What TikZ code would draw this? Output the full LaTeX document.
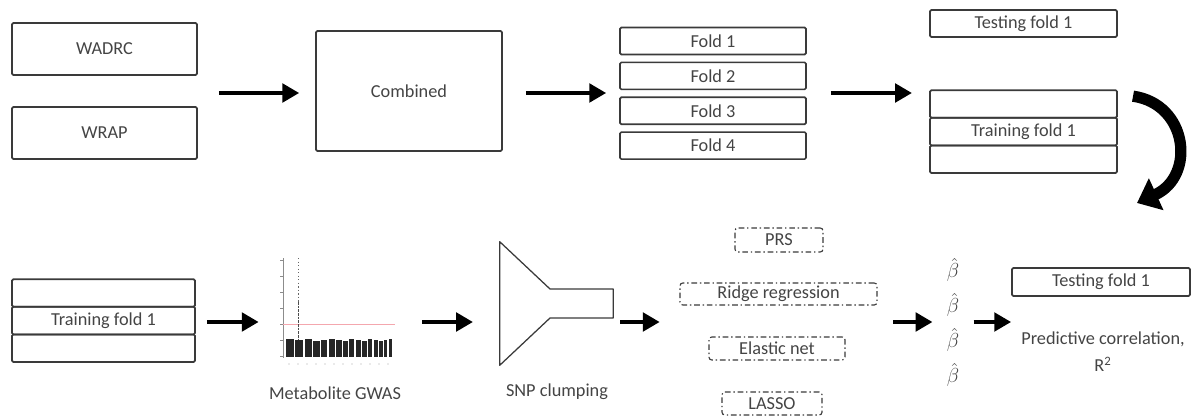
\documentclass[tikz,border=0pt]{standalone}
\usepackage{fontspec}
\setmainfont{Carlito}
\usetikzlibrary{calc, positioning, arrows.meta}
\definecolor{BoxGray}{HTML}{3A3A3A}
\definecolor{TextGray}{HTML}{444444}
\definecolor{CutoffRed}{HTML}{F4A7AE}

\tikzset{
  databox/.style={draw=BoxGray, line width=1.2pt, rounded corners=1pt,
                  inner sep=0pt, text=TextGray, font=\fontsize{13}{15}\selectfont},
  foldrow/.style={databox, outer sep=0pt, minimum height=0.69cm},
  modelbox/.style={draw=BoxGray, line width=0.8pt, rounded corners=2pt,
                   dash pattern=on 4pt off 2pt on 1pt off 2pt,
                   inner sep=0pt, text=TextGray, font=\fontsize{13}{15}\selectfont},
  caption/.style={text=TextGray, inner sep=0pt, font=\fontsize{13}{19}\selectfont},
  betalabel/.style={text=TextGray, inner sep=0pt, font=\fontsize{14}{14}\selectfont},
  flowarrow/.style={line width=3.5pt, -{Triangle[length=12pt,width=13pt]}},
  bendarrow/.style={line width=8pt, -{Triangle[length=15pt,width=24pt]}}
}

\begin{document}
\begin{tikzpicture}[x=0.025cm, y=-0.025cm]
  \useasboundingbox (0,0) rectangle (1194,419);
  \coordinate (toprow) at (0,93);
  \coordinate (midrow) at (0,322);

  % cohorts
  \node[databox, minimum width=4.625cm, minimum height=1.3cm] (wadrc) at (104.5,49) {WADRC};
  \node[databox, minimum width=4.625cm, minimum height=1.3cm] (wrap) at (104.5,133) {WRAP};
  \node[databox, minimum width=4.65cm, minimum height=3cm] (combined) at (409,91) {Combined};

  % four folds
  \node[databox, minimum width=4.65cm, minimum height=0.675cm] (fold1) at (713,41) {Fold 1};
  \foreach \i [count=\j from 2] in {1,2,3}
    \node[databox, minimum width=4.65cm, minimum height=0.675cm, below=4.4pt of fold\i] (fold\j) {Fold \j};

  % split of fold 1
  \node[databox, minimum width=4.675cm, minimum height=0.675cm] (testA) at (1023.5,23.5) {Testing fold 1};
  \node[foldrow, minimum width=4.675cm] (trainA1) at (1023.5,104) {};
  \node[foldrow, minimum width=4.675cm, below=0pt of trainA1] (trainA2) {Training fold 1};
  \node[foldrow, minimum width=4.675cm, below=0pt of trainA2] (trainA3) {};

  \draw[flowarrow, shorten <=15pt, shorten >=11.3pt] (wadrc.east |- toprow) -- (combined.west |- toprow);
  \draw[flowarrow, shorten <=16.3pt, shorten >=9.2pt] (combined.east |- toprow) -- (fold1.west |- toprow);
  \draw[flowarrow, shorten <=17pt, shorten >=12.8pt] (fold1.east |- toprow) -- (trainA1.west |- toprow);

  \coordinate (bendS) at ($(trainA1.north east)+(16,6)$);
  \coordinate (bendE) at (1137,203);
  \draw[bendarrow] (bendS) .. controls (1188,104) and (1196,176) .. (bendE);

  % bottom row
  \node[foldrow, minimum width=4.575cm] (trainB1) at (103.5,293) {};
  \node[foldrow, minimum width=4.575cm, below=0pt of trainB1] (trainB2) {Training fold 1};
  \node[foldrow, minimum width=4.575cm, below=0pt of trainB2] (trainB3) {};

  % manhattan plot
  \node[minimum width=3.2cm, minimum height=2.85cm, inner sep=0pt] (gwas) at (331,315) {};
  \draw[black!45, line width=0.3pt] (283,258) -- (283,358);
  \foreach \t in {260,276,292,308,324,340,356}
    \draw[black!45, line width=0.3pt] (280,\t) -- (283,\t);
  \draw[CutoffRed, line width=0.6pt] (283,324) -- (395,324);
  \draw[black!60, line width=0.5pt, dash pattern=on 1pt off 1.5pt] (298,258) -- (298,302);
  \draw[black!70, line width=0.6pt, dash pattern=on 2pt off 0.6pt] (298,302) -- (298,340);
  \foreach \w/\t [evaluate=\w as \xe using \xs+\w+1.3,
                  remember=\xe as \xs (initially 286)] in
      {8/339, 8/340, 7/339, 7/341, 6/340, 6/339, 6/340, 5/341,
       5/339, 5/340, 5/341, 4/339, 4/340, 4/341, 3/340, 3/339}
    \fill[black!85] (\xs,357) rectangle (\xs+\w,\t);
  \foreach \x in {289,298,307,316,325,334,343,352,361,370,379,388}
    \fill[black!35] (\x,364) circle (0.6);
  \node[caption] (gwaslabel) at (335,393) {Metabolite GWAS};

  % clumping funnel
  \node[minimum width=2.825cm, minimum height=3.075cm, inner sep=0pt] (clump) at (556.5,303.5) {};
  \draw[BoxGray, line width=0.9pt, line join=round]
    (clump.north west) -- (550,289) -- (clump.east |- 0,289) -- (clump.east |- 0,318)
    -- (550,318) -- (clump.south west) -- cycle;
  \node[caption] (clumplabel) at (557,392) {SNP clumping};

  % models
  \node[modelbox, minimum width=2.2cm, minimum height=0.6cm] (prs) at (779,240) {PRS};
  \node[modelbox, minimum width=4.925cm, minimum height=0.55cm] (ridge) at (778.5,294) {Ridge regression};
  \node[modelbox, minimum width=3.4cm, minimum height=0.575cm] (enet) at (777,348.5) {Elastic net};
  \node[modelbox, minimum width=2.5cm, minimum height=0.575cm] (lasso) at (772,403.5) {LASSO};

  % estimates
  \foreach \y [count=\i] in {270,305,340,375}
    \node[betalabel] (beta\i) at (953,\y) {$\hat{\beta}$};

  \node[databox, minimum width=4.45cm, minimum height=0.7cm] (testB) at (1101,282) {Testing fold 1};
  \node[caption, align=center] (corr) at (1103,352) {Predictive correlation,\\R\textsuperscript{2}};

  \draw[flowarrow, shorten <=8.5pt, shorten >=5.7pt] (trainB2.east |- midrow) -- (gwas.west |- midrow);
  \draw[flowarrow, shorten <=19pt, shorten >=19pt] (gwas.east |- midrow) -- (clump.west |- midrow);
  \draw[flowarrow, shorten <=5pt, shorten >=14pt] (clump.east |- midrow) -- (ridge.west |- midrow);
  \draw[flowarrow, shorten <=11.3pt, shorten >=10pt] (ridge.east |- midrow) -- (beta2.west |- midrow);
  \draw[flowarrow, shorten <=10pt] (beta2.east |- midrow) -- (testB.west |- midrow);
\end{tikzpicture}
\end{document}
